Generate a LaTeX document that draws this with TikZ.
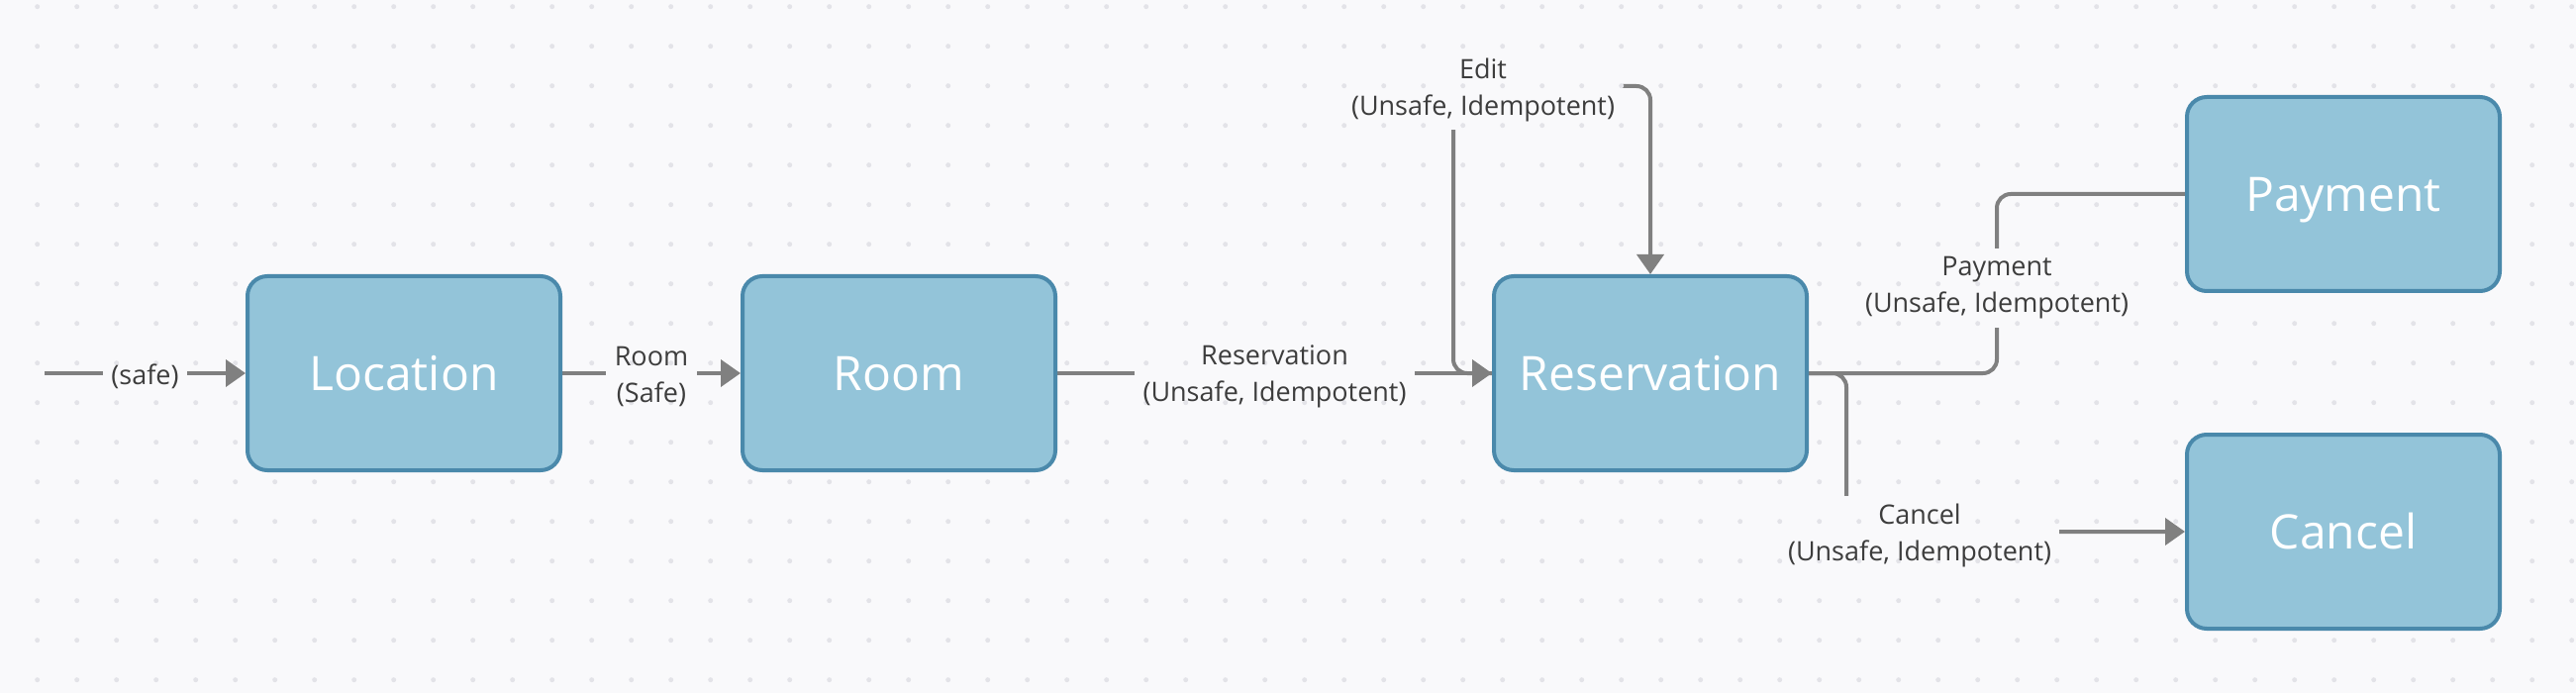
\documentclass[tikz,border=0pt]{standalone}
\usepackage{fontspec}
\setmainfont{Open Sans}
\usetikzlibrary{arrows.meta}

\definecolor{bgcol}{HTML}{F9F9FB}
\definecolor{dotcol}{HTML}{E3E3E8}
\definecolor{boxfill}{HTML}{93C4D9}
\definecolor{boxborder}{HTML}{4A89AB}
\definecolor{linegray}{HTML}{808080}
\definecolor{labeltext}{HTML}{3D3D3D}

\pgfdeclarelayer{back}
\pgfdeclarelayer{dots}
\pgfsetlayers{back,dots,main}

\tikzset{
  box/.style={draw=boxborder, fill=boxfill, line width=2pt, rounded corners=10pt,
    minimum width=158pt, minimum height=98pt, text=white,
    text height=17.5pt, text depth=0pt,
    font=\fontsize{24}{28}\selectfont},
  conn/.style={draw=linegray, line width=2pt},
  arrow/.style={conn, -{Triangle[length=10pt,width=13.5pt]}},
  lbl/.style={text=labeltext, align=center, inner sep=4pt, yshift=-1.5pt,
    font=\fontsize{13.5}{18.5}\selectfont},
}

\begin{document}
\begin{tikzpicture}[x=0.5pt,y=-0.5pt]
    \useasboundingbox (0,0) rectangle (2602,700);

    \coordinate (S) at (45,377);
    \coordinate (E1) at (1468,87);
    \coordinate (P1) at (2017,288);
    \coordinate (C1) at (1865,537);

    \node[box] (Location) at (408,377) {Location};
    \node[box] (Room) at (908,377) {Room};
    \node[box] (Reservation) at (1667,377) {Reservation};
    \node[box] (Payment) at (2367,196) {Payment};
    \node[box] (Cancel) at (2367,537) {Cancel};

    % labels
    \path (S) -- node[lbl] (SafeLbl) {(safe)} (Location);
    \path (Location) -- node[lbl] (RoomLbl) {Room\\(Safe)} (Room);
    \path (Room) -- node[lbl] (ResLbl) {Reservation\\(Unsafe, Idempotent)} (Reservation);
    \node[lbl] (EditLbl) at (1498,88) {Edit\\(Unsafe, Idempotent)};
    \node[lbl] (PayLbl) at (P1) {Payment\\(Unsafe, Idempotent)};
    \node[lbl] (CancelLbl) at (1939,538) {Cancel\\(Unsafe, Idempotent)};

    \begin{pgfonlayer}{back}
    \fill[bgcol] (0,0) rectangle (2602,700);

    \draw[arrow] (S) -- (Location);
    \draw[arrow] (Location) -- (Room);
    \draw[arrow] (Room) -- (Reservation);

    % self loop over the top
    \draw[arrow,rounded corners=7pt] (Reservation.west) -| (E1) -| (Reservation.north);
    \draw[conn,rounded corners=7pt] (Reservation.east) -| (P1) |- (Payment.west);
    \draw[arrow,rounded corners=7pt] (Reservation.east) -| (C1) -- (Cancel.west);

    % gaps behind the labels
    \foreach \l in {SafeLbl,RoomLbl,ResLbl,EditLbl,PayLbl,CancelLbl}
        \fill[bgcol] (\l.south west) rectangle (\l.north east);
    \end{pgfonlayer}

    \begin{pgfonlayer}{dots}
    \foreach \i in {0,...,64}
        \foreach \j in {0,...,17}
            \fill[dotcol] (37.7+40*\i,6.7+40*\j) circle (1.25pt);
    \end{pgfonlayer}

\end{tikzpicture}
\end{document}
